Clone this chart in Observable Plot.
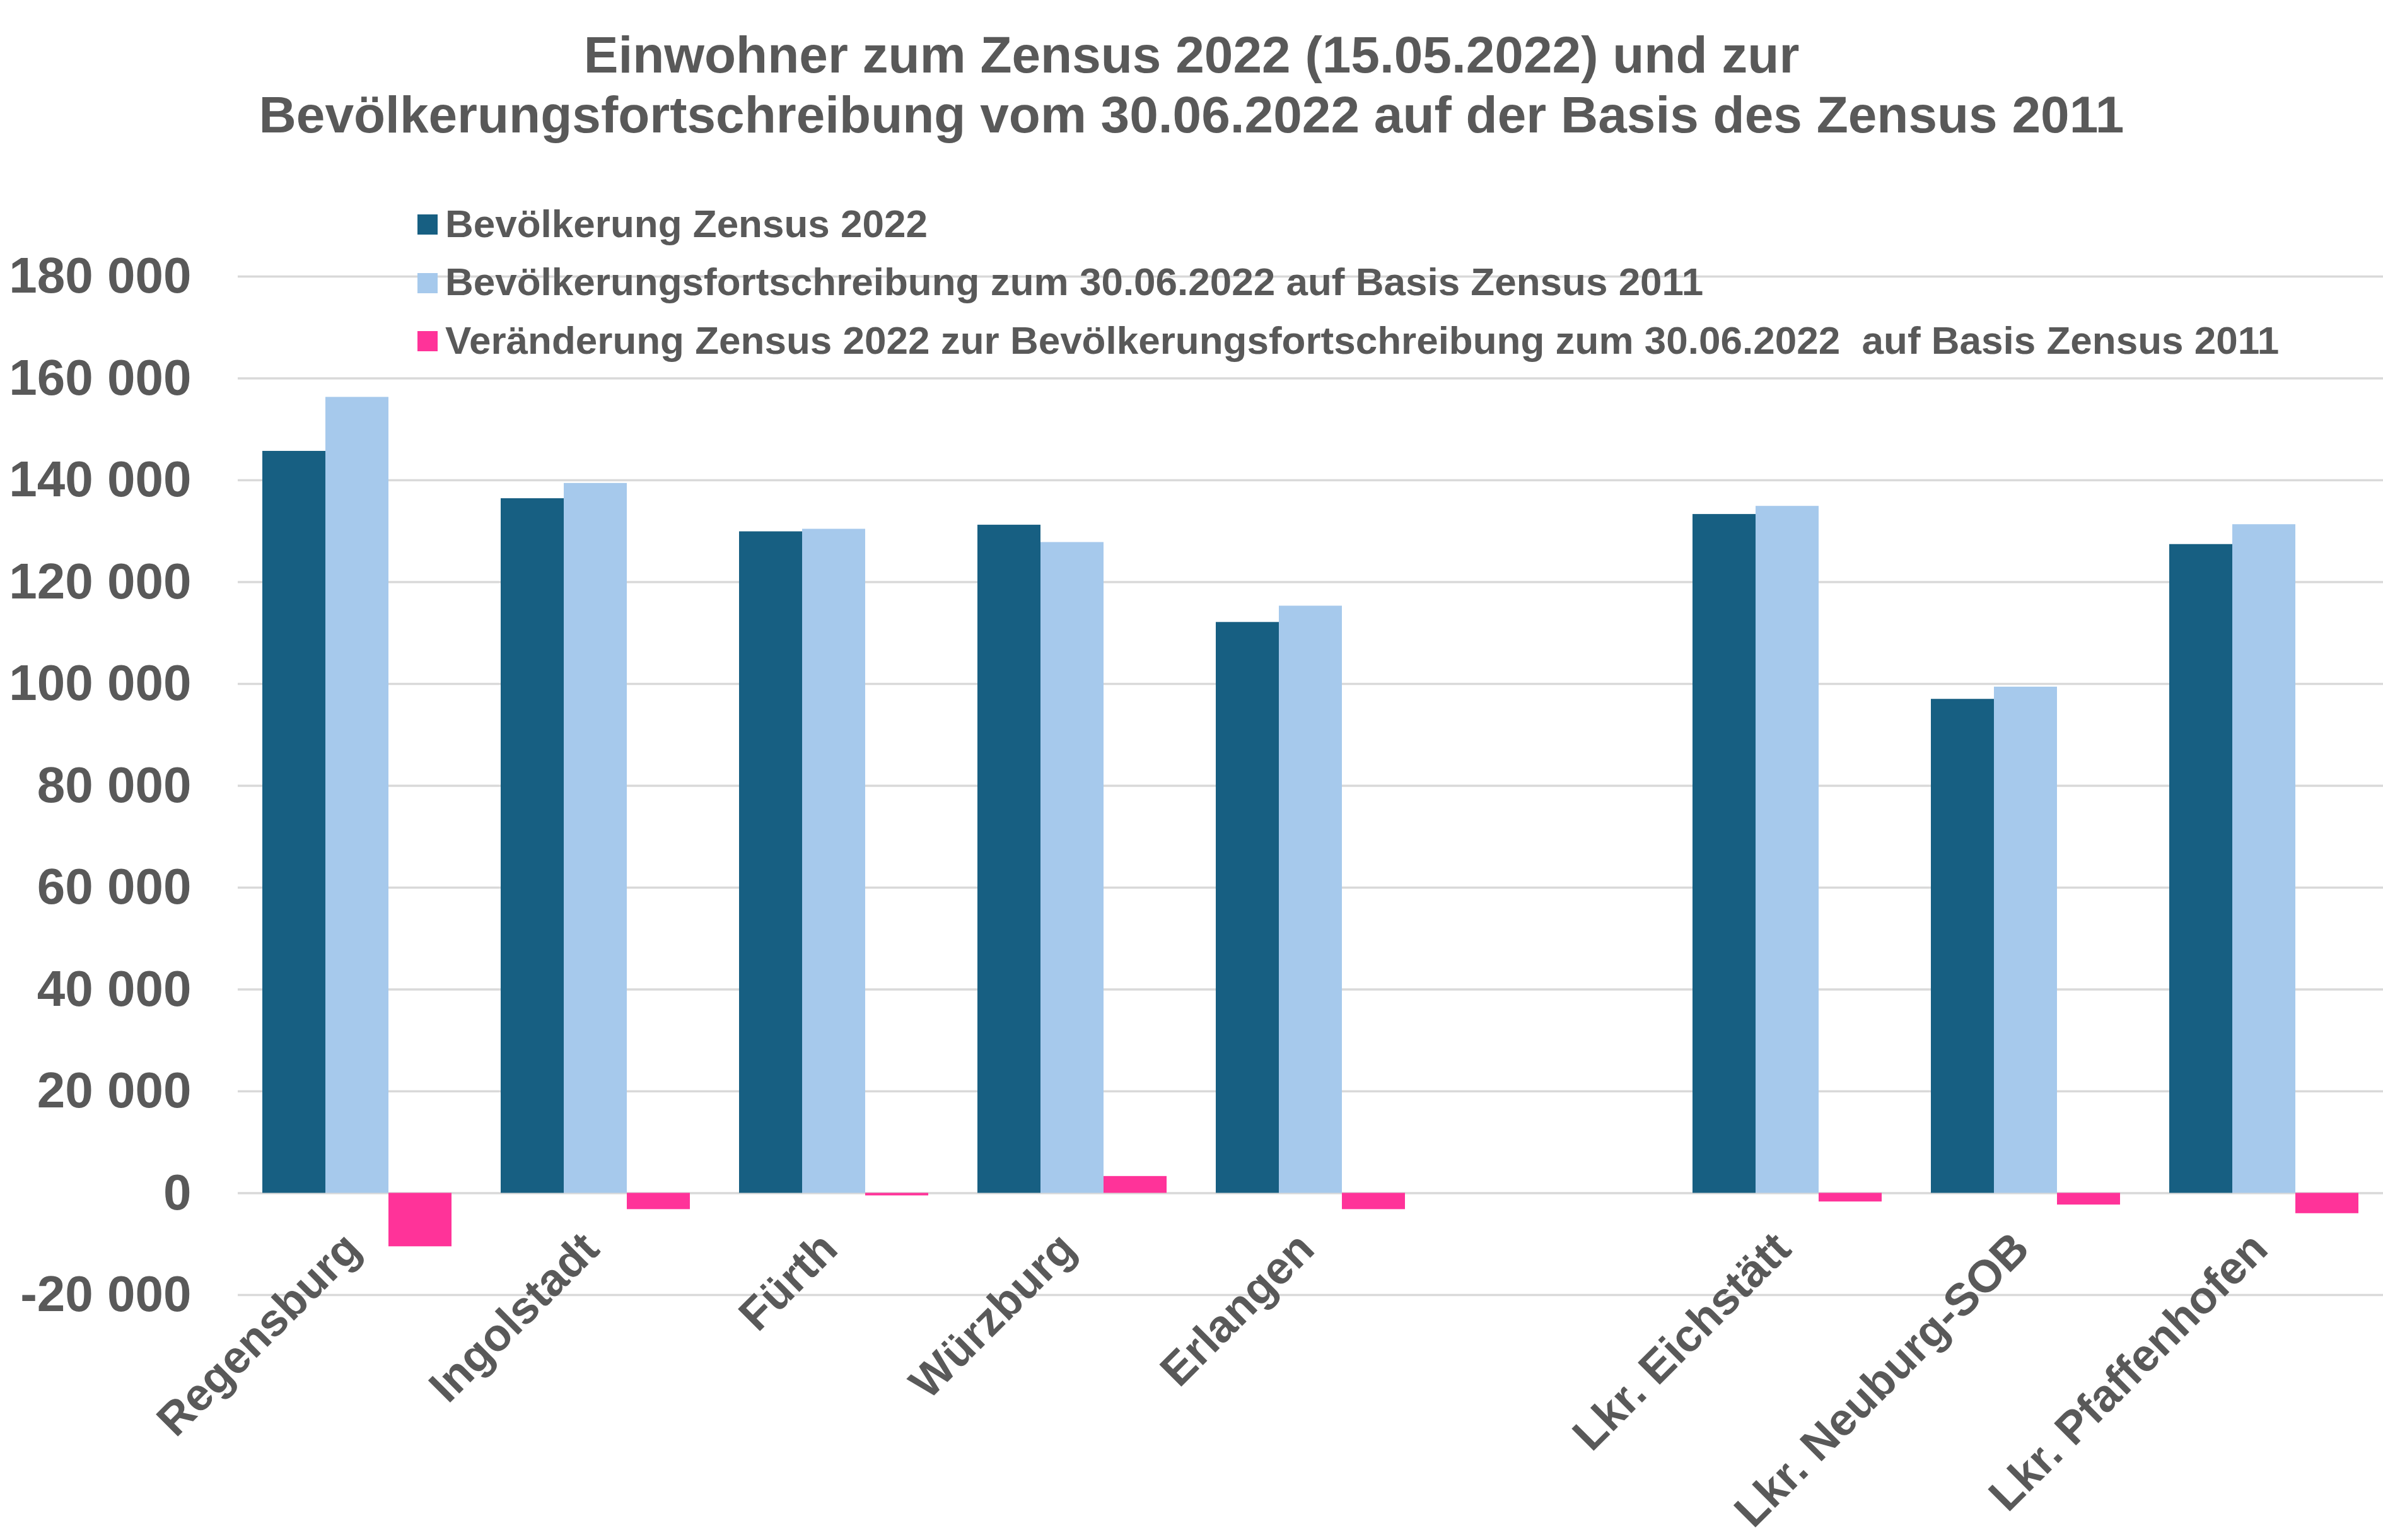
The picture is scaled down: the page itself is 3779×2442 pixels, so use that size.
<!DOCTYPE html>
<html><head><meta charset="utf-8">
<script src="https://cdn.jsdelivr.net/npm/d3@7"></script>
<script src="https://cdn.jsdelivr.net/npm/@observablehq/plot@0.6"></script>
<style>
html,body{margin:0;padding:0;background:#fff;}
#wrap{position:relative;width:3779px;height:2442px;overflow:hidden;font-family:"Liberation Sans",Arial,sans-serif;color:#595959;font-weight:bold;}
#wrap svg{position:absolute;left:0;top:0;}
.title{position:absolute;left:0;width:3779px;text-align:center;font-size:82px;line-height:82px;white-space:pre;}
.leg{position:absolute;left:662px;font-size:62px;line-height:62px;white-space:pre;}
.sw{position:absolute;left:0;top:16.5px;width:32px;height:32px;}
.lt{position:absolute;left:44px;top:0;}
</style>
</head><body>
<div id="wrap"></div>
<script>
const titleLines = ["Einwohner zum Zensus 2022 (15.05.2022) und zur", "Bevölkerungsfortschreibung vom 30.06.2022 auf der Basis des Zensus 2011"];
const categories = ["Regensburg","Ingolstadt","Fürth","Würzburg","Erlangen"," ","Lkr. Eichstätt","Lkr. Neuburg-SOB","Lkr. Pfaffenhofen"];
const series = [
  "Bevölkerung Zensus 2022",
  "Bevölkerungsfortschreibung zum 30.06.2022 auf Basis Zensus 2011",
  "Veränderung Zensus 2022 zur Bevölkerungsfortschreibung zum 30.06.2022  auf Basis Zensus 2011"
];
const colors = ["#175F82", "#A6C9EC", "#FF3399"];
const zensus2022     = [145700, 136400, 129900, 131200, 112100, null, 133300,  97000, 127400];
const fortschreibung = [156300, 139400, 130400, 127800, 115300, null, 134900,  99400, 131300];
const veraenderung   = [-10500,  -3200,   -500,   3300,  -3200, null,  -1700,  -2300,  -4000];
const yTicks = [-20000, 0, 20000, 40000, 60000, 80000, 100000, 120000, 140000, 160000, 180000];

const rows = [];
categories.forEach((c, i) => {
  if (zensus2022[i] == null) return;
  rows.push({cat: c, series: series[0], value: zensus2022[i]});
  rows.push({cat: c, series: series[1], value: fortschreibung[i]});
  rows.push({cat: c, series: series[2], value: veraenderung[i]});
});
const fmt = v => (v < 0 ? "-" : "") + d3.format(",")(Math.abs(v)).replace(/,/g, " ");

const chart = Plot.plot({
  width: 3779, height: 2442,
  marginTop: 438, marginBottom: 389, marginLeft: 377, marginRight: 0,
  style: {fontFamily: "'Liberation Sans', Arial, sans-serif", fontSize: "80px", fontWeight: "bold", color: "#595959", background: "transparent", overflow: "visible"},
  fx: {domain: categories, padding: 0, axis: null},
  x: {domain: series, paddingInner: 0, paddingOuter: 0.375, axis: null},
  y: {domain: [-20000, 180000], axis: null},
  color: {domain: series, range: colors},
  marks: [
    Plot.gridY(yTicks, {stroke: "#d9d9d9", strokeWidth: 3.4, strokeOpacity: 1}),
    Plot.barY(rows, {fx: "cat", x: "series", y: "value", fill: "series"}),
    Plot.axisY(yTicks, {tickFormat: fmt, tickSize: 0, tickPadding: 74, fontSize: 80, label: null}),
    Plot.text(categories, {fx: d => d, y: () => 0, text: d => d, rotate: -45, textAnchor: "end", dy: 76, dx: -7, fontSize: 72, fontWeight: "bold", fill: "#595959"})
  ]
});
const wrap = document.getElementById("wrap");
wrap.appendChild(chart);

const titleTops = [45.6, 140.6];
titleLines.forEach((t, i) => {
  const d = document.createElement("div");
  d.className = "title";
  d.style.top = titleTops[i] + "px";
  d.textContent = t;
  wrap.appendChild(d);
});
series.forEach((s, i) => {
  const row = document.createElement("div");
  row.className = "leg";
  row.style.top = (323.5 + i * 92.5) + "px";
  const sw = document.createElement("div");
  sw.className = "sw";
  sw.style.background = colors[i];
  const lt = document.createElement("div");
  lt.className = "lt";
  lt.textContent = s;
  row.appendChild(sw); row.appendChild(lt);
  wrap.appendChild(row);
});
</script>
</body></html>
